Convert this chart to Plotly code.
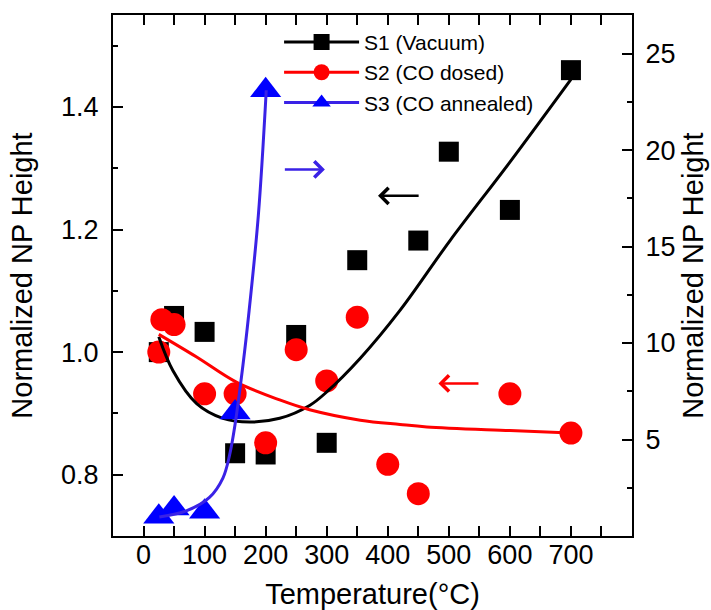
import plotly.graph_objects as go

# ---- measured normalized NP heights ----
temp_s1 = [25, 50, 100, 150, 200, 250, 300, 350, 450, 500, 600, 700]
height_s1 = [1.0, 1.059, 1.033, 0.835, 0.833, 1.028, 0.852, 1.15, 1.182, 1.327, 1.232, 1.46]

temp_s2 = [25, 30, 50, 100, 150, 200, 250, 300, 350, 400, 450, 600, 700]
height_s2 = [1.0, 1.053, 1.045, 0.932, 0.932, 0.852, 1.004, 0.953, 1.057, 0.817, 0.769, 0.932, 0.868]

temp_s3 = [25, 50, 100, 150, 200]
height_s3 = [1.0, 1.43, 1.26, 6.4, 23.1]

# ---- trend curves ----
trend_s1_t = [25, 48, 87, 130, 174, 223, 272, 300, 355, 420, 502, 600, 700]
trend_s1_h = [1.025, 0.97, 0.916, 0.892, 0.886, 0.892, 0.913, 0.935, 0.99, 1.068, 1.182, 1.31, 1.445]

trend_s2_t = [25, 87, 152, 223, 272, 355, 420, 464, 600, 700]
trend_s2_h = [1.029, 0.992, 0.951, 0.922, 0.906, 0.889, 0.882, 0.878, 0.872, 0.868]

trend_s3_t = [26, 70, 108, 130, 141, 150, 163, 172, 188, 201]
trend_s3_h = [0.99, 1.3, 2.0, 3.0, 4.2, 5.8, 8.9, 11.4, 16.6, 23.1]

# ---- axis ticks ----
x_ticks = [0, 100, 200, 300, 400, 500, 600, 700]
y_ticks = [0.8, 1.0, 1.2, 1.4]
y_tick_text = ["0.8", "1.0", "1.2", "1.4"]
y2_ticks = [5, 10, 15, 20, 25]

series_names = ["S1 (Vacuum)", "S2 (CO dosed)", "S3 (CO annealed)"]

BLACK = "#000000"
RED = "#ff0000"
BLUE = "#0000ff"
BLUE_LINE = "#3a22e6"
FONT = "Liberation Sans, Arial, sans-serif"

fig = go.Figure()

# data markers
fig.add_trace(go.Scatter(x=temp_s1, y=height_s1, mode="markers", showlegend=False,
                         marker=dict(symbol="square", size=20, color=BLACK, line=dict(width=0))))
fig.add_trace(go.Scatter(x=temp_s2, y=height_s2, mode="markers", showlegend=False,
                         marker=dict(symbol="circle", size=23, color=RED, line=dict(width=0))))
# trend lines
fig.add_trace(go.Scatter(x=trend_s1_t, y=trend_s1_h, mode="lines", showlegend=False,
                         line=dict(color=BLACK, width=3, shape="spline", smoothing=1)))
fig.add_trace(go.Scatter(x=trend_s2_t, y=trend_s2_h, mode="lines", showlegend=False,
                         line=dict(color=RED, width=3, shape="spline", smoothing=1)))
# S3 on the right axis
fig.add_trace(go.Scatter(x=temp_s3, y=height_s3, mode="markers", showlegend=False, yaxis="y2",
                         marker=dict(symbol="triangle-up", size=27, color=BLUE, line=dict(width=0))))
fig.add_trace(go.Scatter(x=trend_s3_t, y=trend_s3_h, mode="lines", showlegend=False, yaxis="y2",
                         line=dict(color=BLUE_LINE, width=3, shape="spline", smoothing=1)))

# legend entries
legend_styles = [
    (BLACK, BLACK, "square"),
    (RED, RED, "circle"),
    (BLUE_LINE, BLUE, "triangle-up"),
]
for name, (lc, mc, sym) in zip(series_names, legend_styles):
    fig.add_trace(go.Scatter(x=[None], y=[None], mode="lines+markers", name=name,
                             line=dict(color=lc, width=3),
                             marker=dict(symbol=sym, size=22, color=mc, line=dict(width=0))))

# direction arrows pointing to the relevant axis
arrows = [
    (297, 1.298, 229, 1.298, BLUE_LINE),
    (384, 1.255, 453, 1.255, BLACK),
    (483, 0.949, 551, 0.949, RED),
]
for hx, hy, tx, ty, col in arrows:
    fig.add_annotation(x=hx, y=hy, ax=tx, ay=ty, xref="x", yref="y", axref="x", ayref="y",
                       text="", showarrow=True, arrowhead=4, arrowsize=1.25,
                       arrowwidth=2.5, arrowcolor=col, standoff=0)

axis_common = dict(showline=True, linewidth=2, linecolor=BLACK, ticks="inside",
                   ticklen=10, tickwidth=2, tickcolor=BLACK, showgrid=False, zeroline=False,
                   automargin=False,
                   tickfont=dict(family=FONT, size=27, color=BLACK))

fig.update_layout(
    width=711, height=610,
    margin=dict(l=113, r=79, t=15, b=74),
    plot_bgcolor="white", paper_bgcolor="white",
    font=dict(family=FONT, color=BLACK),
    xaxis=dict(range=[-50, 800], tickmode="array", tickvals=x_ticks, mirror="allticks",
               minor=dict(dtick=50, tick0=0, ticks="inside", ticklen=5, tickwidth=2, tickcolor=BLACK),
               ticklabelstandoff=-6,
               title=dict(text="Temperature(°C)", font=dict(family=FONT, size=29), standoff=15),
               **axis_common),
    yaxis=dict(range=[0.7, 1.55], tickmode="array", tickvals=y_ticks, ticktext=y_tick_text,
               minor=dict(dtick=0.1, tick0=0.8, ticks="inside", ticklen=5, tickwidth=2, tickcolor=BLACK),
               ticklabelstandoff=7,
               title=dict(text="Normalized NP Height", font=dict(family=FONT, size=29), standoff=20),
               **axis_common),
    yaxis2=dict(range=[0, 27], overlaying="y", side="right", tickmode="array", tickvals=y2_ticks,
                minor=dict(dtick=2.5, tick0=0, ticks="inside", ticklen=5, tickwidth=2, tickcolor=BLACK),
                ticklabelstandoff=6,
                title=dict(text="Normalized NP Height", font=dict(family=FONT, size=29), standoff=8),
                **axis_common),
    legend=dict(x=0.32, y=0.987, xanchor="left", yanchor="top", bgcolor="rgba(0,0,0,0)",
                font=dict(family=FONT, size=21, color=BLACK), itemwidth=75, tracegroupgap=0),
)

fig.write_html("out.html")
